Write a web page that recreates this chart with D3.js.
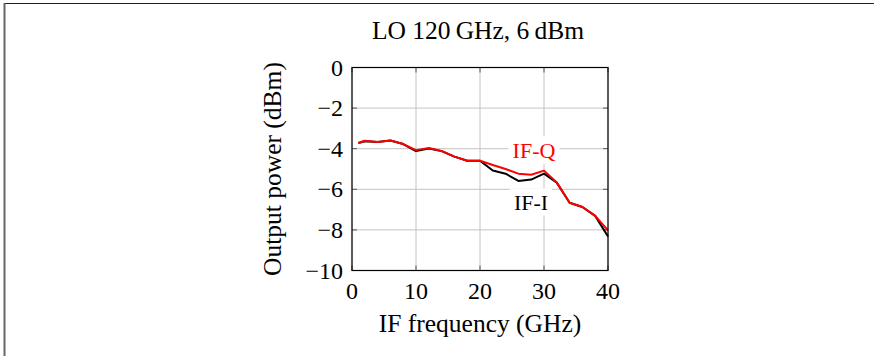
<!DOCTYPE html>
<html><head><meta charset="utf-8">
<script src="https://cdn.jsdelivr.net/npm/d3@7"></script>
<style>body{margin:0;background:#fff}svg{display:block}</style>
</head><body>
<script>
const freq = [1, 2, 4, 6, 8, 10, 12, 14, 16, 18, 20, 22, 24, 26, 28, 30, 32, 34, 36, 38, 40];
const ifI  = [-3.72, -3.63, -3.67, -3.60, -3.77, -4.12, -3.99, -4.12, -4.39, -4.59, -4.59, -5.07, -5.23, -5.59, -5.52, -5.23, -5.67, -6.66, -6.87, -7.31, -8.33];
const ifQ  = [-3.72, -3.61, -3.67, -3.60, -3.77, -4.07, -3.97, -4.11, -4.39, -4.59, -4.59, -4.80, -5.00, -5.23, -5.28, -5.08, -5.67, -6.66, -6.87, -7.31, -8.03];
const xTicks = [0, 10, 20, 30, 40];
const yTicks = [0, -2, -4, -6, -8, -10];
const title = "LO 120\u2009GHz, 6\u2009dBm";
const xLabel = "IF frequency (GHz)";
const yLabel = "Output power (dBm)";

const FONT = "'Liberation Serif', 'DejaVu Serif', serif";
const FS = 24, FL = 25.5, FN = 22;
const W = 874, H = 356;
const svg = d3.select("body").append("svg").attr("width", W).attr("height", H)
  .attr("font-family", FONT);
svg.append("rect").attr("width", W).attr("height", H).attr("fill", "#fff");
svg.append("line").attr("x1", 4).attr("x2", W).attr("y1", 3.5).attr("y2", 3.5).attr("stroke", "#222").attr("stroke-width", 1.2);
svg.append("line").attr("x1", 4.5).attr("x2", 4.5).attr("y1", 3).attr("y2", H).attr("stroke", "#666").attr("stroke-width", 2);

const L = 352, R = 608, T = 67.5, B = 270.5;
const x = d3.scaleLinear().domain([0, 40]).range([L, R]);
const y = d3.scaleLinear().domain([-10, 0]).range([B, T]);

const g = svg.append("g");
g.selectAll(".gx").data(xTicks).enter().append("line")
  .attr("x1", d => x(d)).attr("x2", d => x(d)).attr("y1", T).attr("y2", B)
  .attr("stroke", "#c4c4c4").attr("stroke-width", 1);
g.selectAll(".gy").data(yTicks).enter().append("line")
  .attr("x1", L).attr("x2", R).attr("y1", d => y(d)).attr("y2", d => y(d))
  .attr("stroke", "#c4c4c4").attr("stroke-width", 1);
const tl = 5;
xTicks.forEach(d => {
  g.append("line").attr("x1", x(d)).attr("x2", x(d)).attr("y1", B).attr("y2", B - tl).attr("stroke", "#555");
  g.append("line").attr("x1", x(d)).attr("x2", x(d)).attr("y1", T).attr("y2", T + tl).attr("stroke", "#555");
});
yTicks.forEach(d => {
  g.append("line").attr("x1", L).attr("x2", L + tl).attr("y1", y(d)).attr("y2", y(d)).attr("stroke", "#555");
  g.append("line").attr("x1", R).attr("x2", R - tl).attr("y1", y(d)).attr("y2", y(d)).attr("stroke", "#555");
});

function bgLabel(txt, cx, cy, color) {
  const t = svg.append("text").attr("x", cx).attr("y", cy).attr("text-anchor", "middle")
    .attr("dominant-baseline", "central").attr("font-size", FN).attr("fill", color).text(txt);
  const bb = t.node().getBBox();
  svg.insert("rect", "text").attr("x", bb.x - 4).attr("y", bb.y - 1).attr("width", bb.width + 8).attr("height", bb.height + 2).attr("fill", "#fff");
  return t;
}

const line = d3.line().x((d, i) => x(freq[i])).y(d => y(d));
const lg = svg.append("g");
lg.append("path").datum(ifI).attr("d", line).attr("fill", "none").attr("stroke", "#000").attr("stroke-width", 2).attr("stroke-linejoin", "round");
lg.append("path").datum(ifQ).attr("d", line).attr("fill", "none").attr("stroke", "#ff0000").attr("stroke-width", 2).attr("stroke-linejoin", "round");

bgLabel("IF-Q", 534, 150, "#ff0000");
bgLabel("IF-I", 531, 202, "#000");

svg.append("rect").attr("x", L).attr("y", T).attr("width", R - L).attr("height", B - T)
  .attr("fill", "none").attr("stroke", "#000").attr("stroke-width", 1.2);

svg.selectAll(".xt").data(xTicks).enter().append("text")
  .attr("x", d => x(d)).attr("y", B + 28).attr("text-anchor", "middle").attr("font-size", FS)
  .text(d => d);
svg.selectAll(".yt").data(yTicks).enter().append("text")
  .attr("x", L - 9).attr("y", d => y(d) + 8).attr("text-anchor", "end").attr("font-size", FS)
  .text(d => d < 0 ? "\u2212" + Math.abs(d) : d);

svg.append("text").attr("x", 478).attr("y", 39).attr("text-anchor", "middle").attr("font-size", FL).text(title);
svg.append("text").attr("x", 480).attr("y", 332).attr("text-anchor", "middle").attr("font-size", FL).text(xLabel);
svg.append("text").attr("transform", "translate(281,169) rotate(-90)").attr("text-anchor", "middle").attr("font-size", FL).text(yLabel);
</script>
</body></html>
